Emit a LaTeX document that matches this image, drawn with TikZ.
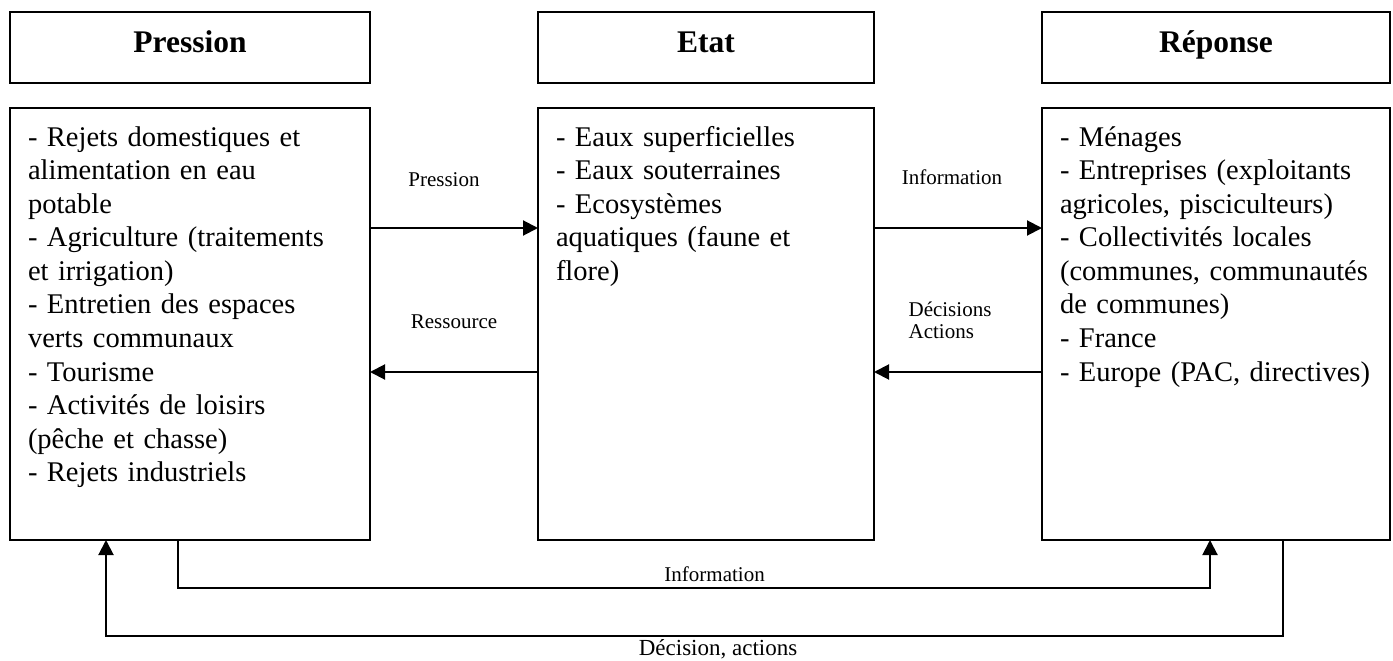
\documentclass[tikz,border=0pt]{standalone}
\usepackage{fontspec}
\setmainfont{Liberation Serif}
\usepackage{tikz}
\usetikzlibrary{positioning, arrows.meta}

\begin{document}
\begin{tikzpicture}[
  x = 1pt, y = -1pt,
  node distance = 25pt and 168pt,
  line width = 2pt,
  entete/.style = {
      draw, rectangle, minimum height=71pt, inner ysep=0pt, outer sep=0pt,
      text height=41pt, text depth=30pt,
      font=\fontsize{31.5}{36}\selectfont\bfseries
  },
  corps/.style = {
      draw, rectangle, inner xsep=18pt, inner ysep=2pt, outer sep=0pt,
      text width=#1, text height=36pt, text depth=392pt, align=left,
      font=\fontsize{28.5}{33.6}\selectfont
  },
  etiq/.style = {inner sep=0pt, font=\fontsize{21}{22}\selectfont},
  fleche/.style = {-{Triangle[length=15pt, width=15pt]}, line width=2pt}
]
  \useasboundingbox (0,0) rectangle (1393,661);

  % 标题框
  \node[entete, minimum width=360pt, anchor=north west] (hP) at (10,12) {Pression};
  \node[entete, minimum width=336pt, right=of hP] (hE) {Etat};
  \node[entete, minimum width=348pt, right=of hE] (hR) {Réponse};

  % 内容框
  \node[corps=324pt, below=of hP] (bP) {- Rejets domestiques et\\alimentation en eau\\potable\\- Agriculture (traitements\\et irrigation)\\- Entretien des espaces\\verts communaux\\- Tourisme\\- Activités de loisirs\\(pêche et chasse)\\- Rejets industriels};
  \node[corps=300pt, below=of hE] (bE) {- Eaux superficielles\\- Eaux souterraines\\- Ecosystèmes\\aquatiques (faune et\\flore)};
  \node[corps=312pt, below=of hR] (bR) {- Ménages\\- Entreprises~(exploitants\\agricoles,~pisciculteurs)\\- Collectivités locales\\(communes,~communautés\\de communes)\\- France\\- Europe~(PAC,~directives)};

  % 框之间的箭头
  \draw[fleche] ([yshift=-120pt]bP.north east) -- node[etiq, above=40pt, xshift=-10pt] (lPression) {Pression} ([yshift=-120pt]bE.north west);
  \draw[fleche] ([yshift=-264pt]bE.north west) -- node[etiq, above=42pt] (lRessource) {Ressource} ([yshift=-264pt]bP.north east);
  \draw[fleche] ([yshift=-120pt]bE.north east) -- node[etiq, above=42pt, xshift=-6pt] (lInfo) {Information} ([yshift=-120pt]bR.north west);
  \draw[fleche] ([yshift=-264pt]bR.north west) -- node[etiq, align=left, above=32pt, xshift=-8pt] (lDecisions) {Décisions\\Actions} ([yshift=-264pt]bE.north east);

  % 下方的回路
  \draw[fleche] ([xshift=168pt]bP.south west) -- ++(0,48) -| node[etiq, pos=0.26, above=5pt] (lInfoBas) {Information} ([xshift=168pt]bR.south west);
  \draw[fleche] ([xshift=-107pt]bR.south east) -- ++(0,96) -| node[etiq, pos=0.24, below=3pt, font=\fontsize{23}{26}\selectfont] (lDecision) {Décision, actions} ([xshift=96pt]bP.south west);
\end{tikzpicture}
\end{document}
